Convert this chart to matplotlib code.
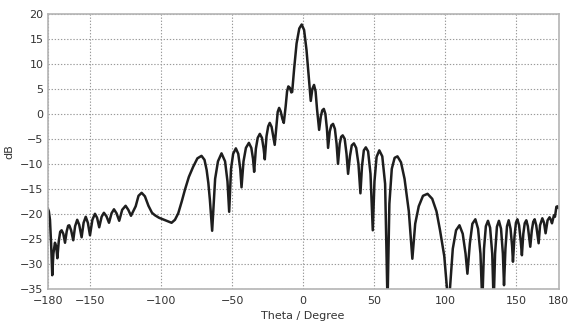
import matplotlib
matplotlib.use("Agg")
import matplotlib.pyplot as plt

# antenna pattern (theta in degrees, gain in dB)
theta = [
    -180, -179.2, -178.4, -177.6, -176.8, -176, -174.9, -174, -173.2, -172.2,
    -171.2, -170.2, -169, -167.8, -166.6, -165.6, -164.8, -163.5, -162, -160.7,
    -159.2, -157.8, -156.1, -154.7, -153.2, -151.7, -150.2, -148.5, -146.7, -145.2,
    -143.7, -142, -140.4, -138.6, -136.8, -135, -133.3, -131.5, -129.6, -127.5,
    -125.1, -123.2, -121.3, -118, -116, -113.8, -111.5, -109, -106.5, -104.4,
    -101.5, -99.7, -96, -92.7, -90.3, -88, -85.5, -83.3, -80.5, -77.5,
    -74.5, -71.6, -69.5, -68, -66.8, -65.7, -64.1,
    -62, -60, -57.5, -55, -53.3, -52.1,
    -50.8, -49.3, -47.4, -45.7, -44.3, -43.4,
    -42, -40.3, -38.2, -36.5, -35.3, -34.5,
    -33.3, -32, -30.5, -29, -27.8, -27,
    -25.8, -24.6, -23.5, -22.2, -21, -20,
    -18.8, -17.9, -16.9, -15.8, -14.6, -13.6,
    -12.3, -11.3, -10.4, -9.3, -8.3, -7.7,
    -6.3, -4.6, -2.7, -1.0, 0.7, 2.4, 4.0, 5.4,
    6.5, 7.7, 8.8, 9.8, 11.3,
    12.5, 13.5, 14.6, 15.7, 16.8, 17.6,
    18.8, 19.9, 21.1, 22.4, 23.6, 24.6,
    25.8, 26.8, 27.9, 29.3, 30.6, 31.7,
    33, 34.3, 35.8, 37.4, 39, 40.4,
    41.5, 42.8, 44.2, 45.8, 47.5, 49.1,
    50.3, 51.8, 53.7, 55.8, 57.8, 59.5,
    60.8, 62.5, 64.5, 66.5, 69, 71.5, 74.5, 77,
    79, 81.5, 84.5, 87.7, 91, 94, 96.5, 99.5, 102.3,
    103.5, 105.5, 107.8, 110.2, 112.5, 114.5, 115.8,
    117.5, 119.3, 121.4, 123.3, 125, 126.3,
    127.5, 128.8, 130.3, 131.8, 133.3, 134.3,
    135.3, 136.6, 138.0, 139.5, 140.8, 141.6,
    142.6, 143.7, 144.9, 146.2, 147.3, 147.9,
    149, 150, 151, 152.2, 153.4, 154.2,
    155.2, 156.2, 157.3, 158.4, 159.4, 160.1,
    161.2, 162.2, 163.2, 164.3, 165.3, 166.0,
    167, 168.6, 169.8, 170.9,
    172.3, 173.7, 174.6, 175.4,
    176.8, 177.5, 178.5, 179.3, 180,
]
gain_db = [
    -18.9, -19.5, -21.2, -26, -32.3, -28, -25.8, -26.5, -28.9, -25.5,
    -23.6, -23.3, -24, -25.8, -23.5, -22.4, -22.3, -23.3, -25.3, -22.5,
    -21.2, -22.2, -24.7, -21.8, -20.6, -21.8, -24.3, -21.2, -20.0, -20.8,
    -22.7, -20.6, -19.8, -20.5, -21.8, -19.9, -19.1, -19.9, -21.4, -19.2,
    -18.4, -19.2, -20.4, -18.5, -16.4, -15.8, -16.5, -18.4, -19.8, -20.3,
    -20.8, -21.0, -21.4, -21.8, -21.2, -19.9, -17.5, -15.2, -12.6, -10.6,
    -8.9, -8.4, -9.2, -11.2, -13.8, -17.2, -23.4,
    -13, -9.5, -7.9, -9.5, -13.5, -19.6,
    -11, -8, -6.9, -8, -11, -14.7,
    -9.5, -6.8, -5.8, -6.8, -9, -11.6,
    -7, -4.8, -4.0, -4.8, -7, -9.1,
    -4.5, -2.5, -1.8, -2.6, -4.5, -6.2,
    -2.5, 0.4, 1.2, 0.5, -1, -1.8,
    1.5, 4.5, 5.5, 5.2, 4.3, 4.4,
    9.1, 14.1, 17.1, 17.9, 16.8, 12.8, 7.4, 2.6,
    5.0, 5.8, 4.5, 1, -3.2,
    -0.5, 0.7, 1.0, 0, -3, -6.8,
    -3.5, -2.3, -2.0, -3, -6, -10,
    -6, -4.6, -4.3, -5, -8, -12,
    -8.5, -6.3, -5.9, -6.8, -10, -15.9,
    -10.5, -7.3, -6.7, -7.5, -12, -23.3,
    -13.5, -8.6, -7.3, -8.5, -14, -38,
    -18, -11, -8.8, -8.5, -9.7, -13, -19.5, -29,
    -22, -18.5, -16.4, -16.0, -17, -19.5, -23.3, -28.5, -38,
    -35, -27, -23.3, -22.3, -24, -28, -32,
    -26, -22, -21.1, -23, -28, -38,
    -27, -22.5, -21.4, -22.8, -28, -38,
    -28, -22.6, -21.4, -23, -28, -34.3,
    -27, -22.5, -21.3, -23, -26.5, -29.6,
    -24.5, -21.8, -21.1, -22.3, -25.5, -28.3,
    -24, -21.9, -21.3, -22.5, -25, -26.6,
    -23.3, -21.6, -21.1, -22.3, -24.5, -25.9,
    -22.3, -20.9, -21.8, -23.9,
    -21.3, -20.7, -21.2, -21.9,
    -20.3, -20.6, -18.6, -18.5, -18.8,
]

x_ticks = [-180, -150, -100, -50, 0, 50, 100, 150, 180]
y_ticks = list(range(-35, 25, 5))

fig = plt.figure(figsize=(5.72, 3.28), dpi=100)
ax = fig.add_axes([0.0834, 0.1198, 0.893, 0.8375])

ax.plot(theta, gain_db, color="#1e1e1e", lw=1.8, solid_joinstyle="round")

ax.set_xlim(-180, 180)
ax.set_ylim(-35, 20)
ax.set_xticks(x_ticks)
ax.set_yticks(y_ticks)
ax.grid(True, color="#9a9a9a", linestyle=(0, (1.2, 1.6)), lw=0.8)
ax.tick_params(length=0, labelsize=8, colors="#333333")
ax.tick_params(axis="y", pad=3)
ax.tick_params(axis="x", pad=5)
for s in ax.spines.values():
    s.set_color("#b4b4b4")
    s.set_linewidth(1.2)

ax.set_xlabel("Theta / Degree", fontsize=8, color="#333333", labelpad=4)
ax.set_ylabel("dB", fontsize=8, color="#333333", labelpad=4)

fig.savefig("out.png", dpi=100)
